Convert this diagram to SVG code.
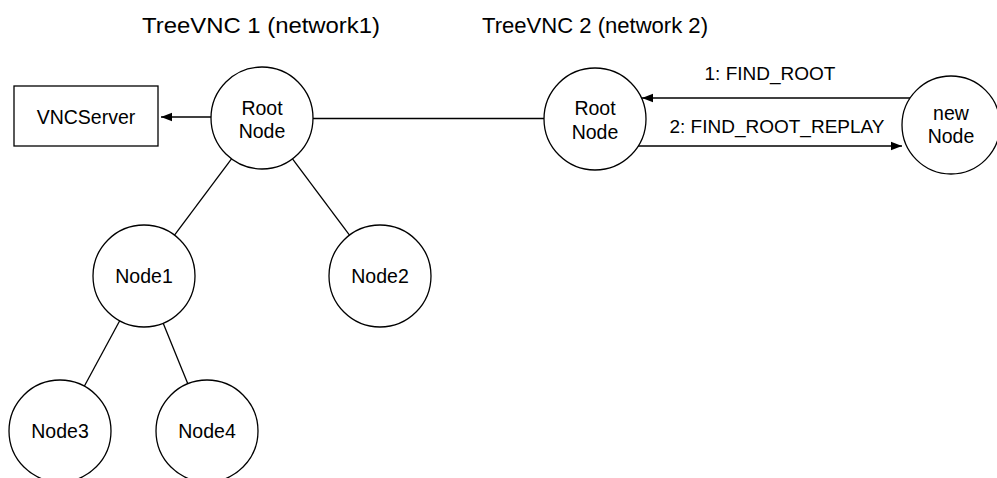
<svg xmlns="http://www.w3.org/2000/svg" width="997" height="478" viewBox="0 0 997 478">
<style>
.n{fill:#fff;stroke:#000;stroke-width:1.3}
.t{font-family:"Liberation Sans",Arial,sans-serif;font-size:19.5px;fill:#000;text-anchor:middle}
.h{font-family:"Liberation Sans",Arial,sans-serif;font-size:22px;fill:#000}
.e{stroke:#000;stroke-width:1.3;fill:none}
</style>
<defs>
<marker id="ah" markerUnits="userSpaceOnUse" markerWidth="12" markerHeight="10" viewBox="0 0 12 10" refX="11" refY="5" orient="auto">
<path d="M0,0.8 L11,5 L0,9.2 Z" fill="#000"/>
</marker>
</defs>
<rect width="997" height="478" fill="#fff"/>
<g id="titles">
<text class="h" x="142" y="33" textLength="238" lengthAdjust="spacingAndGlyphs">TreeVNC 1 (network1)</text>
<text class="h" x="482" y="33" textLength="226" lengthAdjust="spacingAndGlyphs">TreeVNC 2 (network 2)</text>
</g>
<g id="connectors">
<line class="e" x1="212" y1="117" x2="161" y2="117" marker-end="url(#ah)"/>
<line class="e" x1="313" y1="118.5" x2="544" y2="118.5"/>
<line class="e" x1="231.5" y1="158.9" x2="174.5" y2="235.1"/>
<line class="e" x1="292.5" y1="158.9" x2="349.5" y2="235.1"/>
<line class="e" x1="119.7" y1="320.8" x2="84.3" y2="386.2"/>
<line class="e" x1="163.2" y1="323.3" x2="187.8" y2="383.7"/>
<line class="e" x1="910" y1="98" x2="642" y2="98" marker-end="url(#ah)"/>
<line class="e" x1="638" y1="146" x2="902" y2="146" marker-end="url(#ah)"/>
<text class="t" x="770" y="80" style="font-size:19px">1: FIND_ROOT</text>
<text class="t" x="777" y="133" style="font-size:19px">2: FIND_ROOT_REPLAY</text>
</g>
<g id="vncserver">
<rect class="n" x="14" y="86" width="144" height="60"/>
<text class="t" x="86" y="124">VNCServer</text>
</g>
<g id="root1">
<circle class="n" cx="262" cy="118" r="51"/>
<text class="t" x="262" y="115">Root</text>
<text class="t" x="262" y="138">Node</text>
</g>
<g id="root2">
<circle class="n" cx="595" cy="119" r="51"/>
<text class="t" x="595" y="115">Root</text>
<text class="t" x="595" y="139">Node</text>
</g>
<g id="newnode">
<circle class="n" cx="951" cy="125" r="49"/>
<text class="t" x="951" y="120">new</text>
<text class="t" x="951" y="143">Node</text>
</g>
<g id="node1">
<circle class="n" cx="144" cy="276" r="51"/>
<text class="t" x="144" y="283">Node1</text>
</g>
<g id="node2">
<circle class="n" cx="380" cy="276" r="51"/>
<text class="t" x="380" y="283">Node2</text>
</g>
<g id="node3">
<circle class="n" cx="60" cy="431" r="51"/>
<text class="t" x="60" y="438">Node3</text>
</g>
<g id="node4">
<circle class="n" cx="207" cy="431" r="51"/>
<text class="t" x="207" y="438">Node4</text>
</g>
</svg>
